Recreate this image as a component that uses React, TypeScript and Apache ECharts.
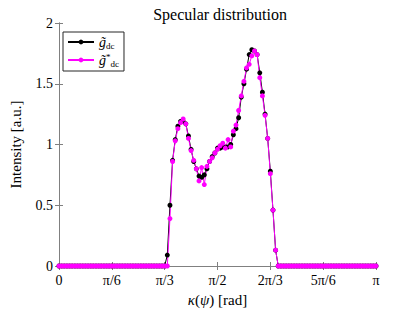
import React, { useEffect, useRef } from "react";
import * as echarts from "echarts";

// x positions: index i -> i * pi/120 rad (121 samples over [0, pi]); axis in units of pi/6
const N_SAMPLES = 121;
const NONZERO_START = 41;
// measured tilde g_dc (black), indices 41..82
const gDc = [
  0.09, 0.5, 0.87, 1.04, 1.15, 1.19, 1.19, 1.17, 1.07, 0.96,
  0.86, 0.8, 0.74, 0.73, 0.75, 0.8, 0.86, 0.9, 0.93, 0.97,
  0.97, 0.98, 0.98, 0.98, 1.0, 1.08, 1.13, 1.22, 1.39, 1.5,
  1.62, 1.74, 1.78, 1.77, 1.74, 1.59, 1.43, 1.25, 1.05, 0.78,
  0.46, 0.13,
];
// estimated tilde g*_dc (magenta), indices 41..82
const gDcStar = [
  0, 0.39, 0.86, 1.03, 1.13, 1.18, 1.21, 1.17, 1.05, 0.95,
  0.87, 0.8, 0.7, 0.81, 0.67, 0.82, 0.86, 0.89, 0.93, 0.96,
  0.99, 1.01, 0.97, 1.04, 0.98, 1.11, 1.16, 1.28, 1.4, 1.52,
  1.63, 1.66, 1.73, 1.77, 1.74, 1.55, 1.4, 1.24, 1.05, 0.76,
  0.46, 0.13,
];
const xTickLabels = ["0", "π/6", "π/3", "π/2", "2π/3", "5π/6", "π"];
const yTickLabels = ["0", "0.5", "1", "1.5", "2"];

const buildSeries = (vals: number[]) => {
  const out: number[][] = [];
  for (let i = 0; i < N_SAMPLES; i++) {
    const j = i - NONZERO_START;
    const v = j >= 0 && j < vals.length ? vals[j] : 0;
    out.push([i / 20, v]);
  }
  return out;
};

const FONT = "Liberation Serif";

export default function App() {
  const ref = useRef<HTMLDivElement>(null);
  useEffect(() => {
    if (!ref.current) return;
    const chart = echarts.init(ref.current, undefined, { renderer: "svg" });
    const axisCommon = {
      axisLine: { show: true, lineStyle: { color: "#808080", width: 1 } },
      axisTick: { show: true, inside: true, length: 4, lineStyle: { color: "#808080" } },
      splitLine: { show: false },
    };
    chart.setOption({
      animation: false,
      backgroundColor: "#fff",
      title: {
        text: "Specular distribution",
        left: 215,
        textAlign: "center",
        top: 1,
        textStyle: { fontFamily: FONT, fontSize: 16, fontWeight: "normal", color: "#000" },
      },
      legend: {
        left: 63,
        top: 32,
        orient: "vertical",
        itemGap: 2,
        itemWidth: 26,
        itemHeight: 6,
        padding: [3, 5, 3, 4],
        borderColor: "#262626",
        borderWidth: 1,
        backgroundColor: "#fff",
        data: ["gdc", "gdcs"],
        formatter: (name: string) =>
          name === "gdc" ? "{g|g̃}{sub|dc}" : "{g|g̃}{sup|*}{sub|dc}",
        textStyle: {
          fontFamily: FONT,
          color: "#000",
          rich: {
            g: { fontFamily: FONT, fontStyle: "italic", fontSize: 14, lineHeight: 16 },
            sub: { fontFamily: FONT, fontSize: 9, verticalAlign: "bottom", lineHeight: 12, padding: [6, 0, 0, 0] },
            sup: { fontFamily: FONT, fontSize: 9, verticalAlign: "top", padding: [0, 0, 6, 0] },
          },
        },
      },
      grid: { left: 54, top: 23, width: 322, height: 247 },
      xAxis: [
        {
          type: "value",
          min: 0,
          max: 6,
          interval: 1,
          ...axisCommon,
          axisLabel: {
            color: "#000",
            fontFamily: FONT,
            fontSize: 14,
            margin: 7,
            formatter: (v: number) => xTickLabels[Math.round(v)] ?? "",
          },
          name: "{i|κ}({i|ψ}) [rad]",
          nameLocation: "middle",
          nameGap: 26,
          nameTextStyle: {
            fontFamily: FONT,
            fontSize: 15,
            color: "#000",
            rich: { i: { fontFamily: FONT, fontStyle: "italic", fontSize: 15 } },
          },
        },
        {
          type: "value",
          position: "top",
          min: 0,
          max: 6,
          interval: 1,
          ...axisCommon,
          axisLabel: { show: false },
        },
      ],
      yAxis: [
        {
          type: "value",
          min: 0,
          max: 2,
          interval: 0.5,
          ...axisCommon,
          axisLabel: {
            color: "#000",
            fontFamily: FONT,
            fontSize: 14,
            margin: 6,
            formatter: (v: number) => yTickLabels[Math.round(v * 2)] ?? "",
          },
          name: "Intensity [a.u.]",
          nameLocation: "middle",
          nameGap: 36,
          nameTextStyle: { fontFamily: FONT, fontSize: 15, color: "#000" },
        },
        {
          type: "value",
          position: "right",
          min: 0,
          max: 2,
          interval: 0.5,
          ...axisCommon,
          axisLabel: { show: false },
        },
      ],
      series: [
        {
          name: "gdc",
          type: "line",
          data: buildSeries(gDc),
          symbol: "circle",
          symbolSize: 5,
          showSymbol: true,
          lineStyle: { color: "#000", width: 1 },
          itemStyle: { color: "#000" },
          clip: false,
        },
        {
          name: "gdcs",
          type: "line",
          data: buildSeries(gDcStar),
          symbol: "circle",
          symbolSize: 5,
          showSymbol: true,
          lineStyle: { color: "#ff00ff", width: 1 },
          itemStyle: { color: "#ff00ff" },
          clip: false,
        },
      ],
    });
    return () => chart.dispose();
  }, []);
  return <div ref={ref} style={{ width: 415, height: 312, position: "absolute", left: 0, top: 0 }} />;
}
